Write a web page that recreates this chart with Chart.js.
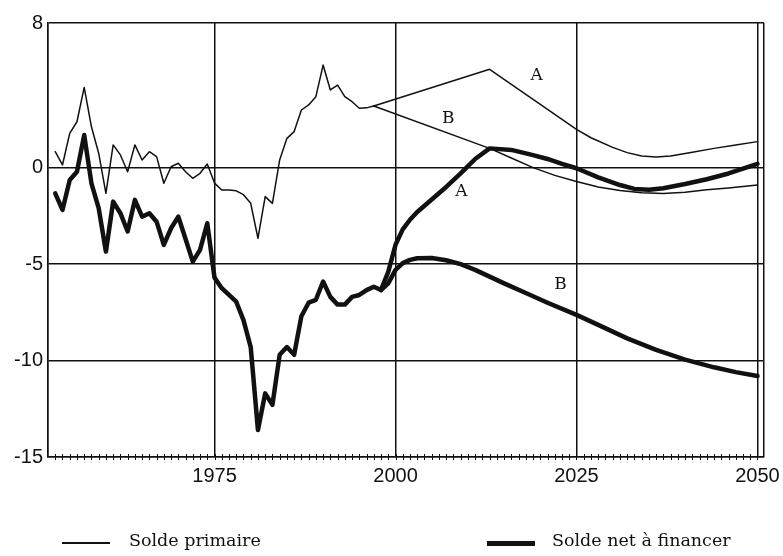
<!DOCTYPE html>
<html>
<head>
<meta charset="utf-8">
<script src="https://cdn.jsdelivr.net/npm/chart.js@4"></script>
<style>
  body { margin: 0; background: #fff; }
  #wrap { position: relative; width: 783px; height: 556px; }
  .leg { position: absolute; font-family: "DejaVu Serif", serif; font-size: 17.5px; color: #111; white-space: nowrap; }
  .sample { position: absolute; background: #111; }
</style>
</head>
<body>
<div id="wrap">
  <canvas id="myChart" width="783" height="556"></canvas>
  <div class="sample" style="left:62px; top:542px; width:48px; height:1.5px;"></div>
  <div class="leg" style="left:129px; top:530px;">Solde primaire</div>
  <div class="sample" style="left:487px; top:541px; width:48px; height:5px;"></div>
  <div class="leg" style="left:552px; top:530px;">Solde net à financer</div>
</div>
<script>
// ↓ Données ↓

// solde primaire observé
const primYears = [1953, 1954, 1955, 1956, 1957, 1958, 1959, 1960, 1961, 1962, 1963, 1964, 1965, 1966, 1967, 1968, 1969, 1970, 1971, 1972, 1973, 1974, 1975, 1976, 1977, 1978, 1979, 1980, 1981, 1982, 1983, 1984, 1985, 1986, 1987, 1988, 1989, 1990, 1991, 1992, 1993, 1994, 1995, 1996, 1997];
const primValues = [0.83, 0.14, 1.78, 2.38, 4.16, 2.12, 0.75, -1.33, 1.18, 0.66, -0.21, 1.18, 0.4, 0.83, 0.57, -0.81, 0.05, 0.23, -0.21, -0.55, -0.29, 0.19, -0.8, -1.16, -1.16, -1.2, -1.4, -1.85, -3.66, -1.5, -1.85, 0.4, 1.52, 1.87, 2.99, 3.25, 3.68, 5.32, 4.03, 4.28, 3.68, 3.42, 3.08, 3.1, 3.2];

// solde net à financer observé
const netYears = [1953, 1954, 1955, 1956, 1957, 1958, 1959, 1960, 1961, 1962, 1963, 1964, 1965, 1966, 1967, 1968, 1969, 1970, 1971, 1972, 1973, 1974, 1975, 1976, 1977, 1978, 1979, 1980, 1981, 1982, 1983, 1984, 1985, 1986, 1987, 1988, 1989, 1990, 1991, 1992, 1993, 1994, 1995, 1996, 1997, 1998];
const netValues = [-1.33, -2.19, -0.64, -0.21, 1.69, -0.81, -2.1, -4.35, -1.76, -2.36, -3.31, -1.67, -2.54, -2.36, -2.8, -4.0, -3.14, -2.54, -3.7, -4.87, -4.26, -2.88, -5.7, -6.25, -6.6, -6.95, -7.9, -9.3, -13.6, -11.7, -12.3, -9.7, -9.3, -9.7, -7.7, -7.0, -6.85, -5.9, -6.7, -7.1, -7.1, -6.7, -6.6, -6.35, -6.17, -6.34];

// projections solde primaire
const primAYears = [1997, 2013, 2025, 2027, 2030, 2032, 2034, 2036, 2038, 2041, 2044, 2047, 2050];
const primAValues = [3.2, 5.1, 1.99, 1.55, 1.05, 0.78, 0.6, 0.55, 0.6, 0.8, 1.0, 1.17, 1.35];
const primBYears = [1997, 2013, 2016, 2019, 2022, 2025, 2028, 2031, 2034, 2037, 2040, 2043, 2046, 2050];
const primBValues = [3.2, 1.0, 0.5, 0.0, -0.4, -0.72, -1.0, -1.18, -1.3, -1.34, -1.27, -1.15, -1.05, -0.9];

// projections solde net à financer
const netAYears = [1998, 1999, 2000, 2001, 2002, 2003, 2005, 2007, 2009, 2011, 2013, 2016, 2019, 2021, 2023, 2025, 2028, 2031, 2033, 2035, 2037, 2040, 2043, 2046, 2050];
const netAValues = [-6.34, -5.4, -4.0, -3.2, -2.7, -2.3, -1.65, -1.0, -0.3, 0.45, 1.0, 0.92, 0.65, 0.45, 0.2, -0.03, -0.5, -0.9, -1.1, -1.15, -1.07, -0.85, -0.6, -0.3, 0.2];
const netBYears = [1998, 1999, 2000, 2001, 2002, 2003, 2005, 2007, 2009, 2011, 2013, 2015, 2018, 2021, 2025, 2028, 2032, 2036, 2040, 2044, 2047, 2050];
const netBValues = [-6.34, -6.0, -5.3, -4.95, -4.78, -4.7, -4.68, -4.8, -5.0, -5.3, -5.65, -6.0, -6.5, -7.0, -7.63, -8.15, -8.85, -9.45, -9.95, -10.35, -10.6, -10.8];

// axes
const xTicks = [1975, 2000, 2025, 2050];
const yTicks = [-15, -10, -5, 0, 7.5];

// étiquettes des scénarios
const scenTexts = ['A', 'B', 'A', 'B'];
const scenX = [2019.5, 2007.3, 2009.1, 2022.8];
const scenY = [4.75, 2.52, -1.26, -6.08];

const ink = '#111';

function pts(xs, ys) {
    return xs.map((x, i) => ({ x: x, y: ys[i] }));
}

function serie(xs, ys, w) {
    return {
        data: pts(xs, ys),
        borderColor: ink,
        borderWidth: w,
        pointRadius: 0,
        fill: false,
        tension: 0,
        borderJoinStyle: 'round',
        borderCapStyle: 'round',
    };
}

// petites graduations annuelles + lettres A / B
const extras = {
    id: 'extras',
    afterDraw(chart) {
        const c = chart.ctx;
        const xs = chart.scales.x;
        const ys = chart.scales.y;
        const b = chart.chartArea.bottom;
        c.save();
        c.strokeStyle = ink;
        c.lineWidth = 1;
        for (let yr = 1953; yr <= 2050; yr++) {
            const px = Math.round(xs.getPixelForValue(yr)) + 0.5;
            c.beginPath();
            c.moveTo(px, b - 3);
            c.lineTo(px, b + 3);
            c.stroke();
        }
        c.fillStyle = ink;
        c.font = '17px "DejaVu Serif", serif';
        c.textAlign = 'center';
        c.textBaseline = 'middle';
        scenTexts.forEach((t, i) => {
            c.fillText(t, xs.getPixelForValue(scenX[i]), ys.getPixelForValue(scenY[i]));
        });
        c.restore();
    }
};

const tickFont = { family: '"Liberation Sans", Arial, sans-serif', size: 20 };

new Chart(document.getElementById('myChart'), {
    type: 'line',
    data: {
        datasets: [
            serie(primYears, primValues, 1.5),
            serie(primAYears, primAValues, 1.5),
            serie(primBYears, primBValues, 1.5),
            serie(netYears, netValues, 4.5),
            serie(netAYears, netAValues, 4.5),
            serie(netBYears, netBValues, 4.5),
        ]
    },
    options: {
        responsive: false,
        animation: false,
        devicePixelRatio: 1,
        layout: { padding: { top: 23, right: 19, left: 0, bottom: 0 } },
        plugins: {
            legend: { display: false },
            tooltip: { enabled: false },
        },
        scales: {
            x: {
                type: 'linear',
                min: 1952,
                max: 2050.9,
                afterBuildTicks(axis) {
                    axis.ticks = [1952].concat(xTicks, [2050.9]).map(v => ({ value: v }));
                },
                afterFit(axis) { axis.height = 99; },
                ticks: {
                    autoSkip: false,
                    maxRotation: 0,
                    padding: 7,
                    color: ink,
                    font: tickFont,
                    callback: v => xTicks.includes(v) ? String(v) : '',
                },
                grid: { color: ink, lineWidth: 1.5, drawTicks: false },
                border: { color: ink, width: 1.5 },
            },
            y: {
                min: -15,
                max: 7.5,
                afterBuildTicks(axis) {
                    axis.ticks = yTicks.map(v => ({ value: v }));
                },
                afterFit(axis) { axis.width = 48; },
                ticks: {
                    autoSkip: false,
                    padding: 5,
                    color: ink,
                    font: tickFont,
                    callback: v => v === 7.5 ? '8' : String(v),
                },
                grid: { color: ink, lineWidth: 1.5, drawTicks: false },
                border: { color: ink, width: 1.5 },
            },
        },
    },
    plugins: [extras],
});
</script>
</body>
</html>
